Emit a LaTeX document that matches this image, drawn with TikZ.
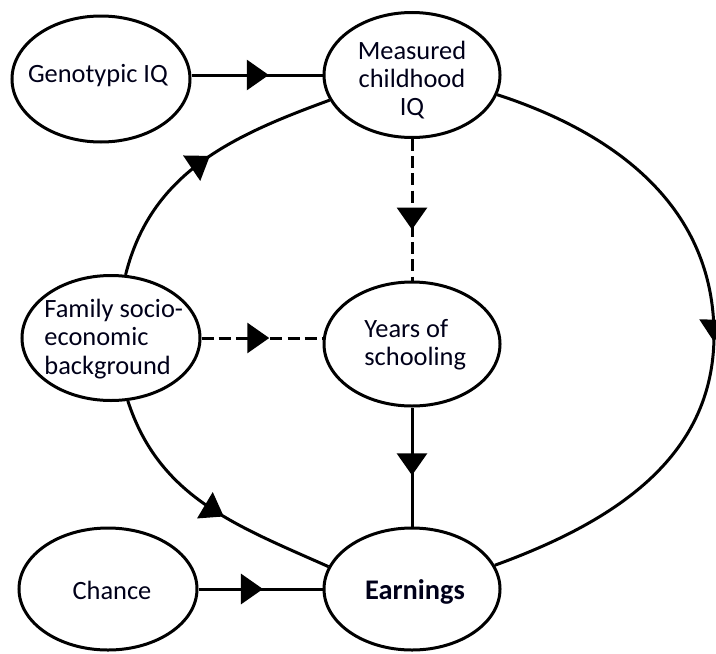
\documentclass[tikz,border=0pt]{standalone}
\usepackage{fontspec}
\setmainfont{Carlito}
\usetikzlibrary{arrows.meta,decorations.markings,calc,shapes.geometric}
\tikzset{
  ell/.style={draw, ellipse, inner sep=0pt, line width=1.5pt},
  txt/.style={font=\fontsize{13.2}{14.2}\selectfont, inner sep=0pt, text=black!90!blue},
  conn/.style={line width=1.5pt},
  dashconn/.style={line width=1.5pt, dash pattern=on 6pt off 2.6pt},
  midarrow/.style={postaction={decorate}, decoration={markings,
     mark=at position #1 with {\arrow{Triangle[length=11pt,width=15pt]}}}}
}
\begin{document}
\begin{tikzpicture}[x=0.5pt,y=-0.5pt]
\useasboundingbox (0,0) rectangle (716,653);
% ellipses
\node[ell, minimum width=89pt, minimum height=63pt] (g) at (101,79) {};
\node[ell, minimum width=88pt, minimum height=62.5pt] (m) at (412,75) {};
\node[ell, minimum width=89pt, minimum height=62.5pt] (f) at (111,338) {};
\node[ell, minimum width=88pt, minimum height=62pt] (y) at (412,344) {};
\node[ell, minimum width=89pt, minimum height=61pt] (c) at (108,589) {};
\node[ell, minimum width=88pt, minimum height=61pt] (e) at (412,589) {};
% texts
\node[txt] (gt) at (98,76) {Genotypic IQ};
\node[txt, align=center] (mt) at (412,80) {Measured\\childhood\\IQ};
\node[txt, align=left, anchor=west] (ft) at (44,339) {Family socio-\\economic\\background};
\node[txt, align=left, anchor=west] (yt) at (364,345) {Years of\\schooling};
\node[txt] (ct) at (112,590) {Chance};
\node[txt, font=\fontsize{14.2}{16}\selectfont\bfseries] (et) at (415,592) {Earnings};
% connectors
\coordinate (r) at (714,335);
\draw[conn, midarrow=0.59] (m.west -| g.east) -- (m.west);
\draw[dashconn, midarrow=0.64] (m.south) -- (y.north);
\draw[dashconn, midarrow=0.56] (f.east) -- (f.east -| y.west);
\draw[conn, midarrow=0.57] (y.south) -- (e.north);
\draw[conn, midarrow=0.52] (c.east) -- (c.east -| e.west);
\draw[conn, midarrow=0.53] (f.77) to[out=76, in=200] (m.197);
\draw[conn, midarrow=0.57] (f.-75) to[out=-72, in=156] (e.165);
\draw[conn, midarrow=0.515] (m.-13) to[out=-18, in=90] (r) to[out=-90, in=20] (e.16);
\end{tikzpicture}
\end{document}
